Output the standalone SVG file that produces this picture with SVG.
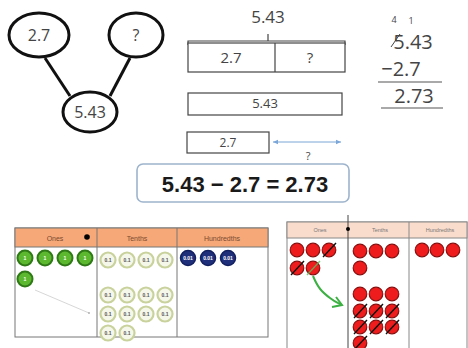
<svg xmlns="http://www.w3.org/2000/svg" width="468" height="348" viewBox="0 0 468 348">
<style>
.t{font-family:"Open Sans","Liberation Sans",sans-serif;fill:#444;text-anchor:middle}
.bond{fill:#fff;stroke:#111;stroke-width:3}
.edge{stroke:#111;stroke-width:3;fill:none}
.bx{fill:#fff;stroke:#444;stroke-width:1.2}
.one{fill:#5cb82e;stroke:#2f7a16;stroke-width:2}
.ten{fill:#f5f7ea;stroke:#c9d29c;stroke-width:2.2}
.hun{fill:#1f2f7a;stroke:#132060;stroke-width:1.5}
.dl{font-family:"Liberation Sans",sans-serif;text-anchor:middle;font-size:5px;font-weight:bold}
.red{fill:#ee1c1c;stroke:#8a1010;stroke-width:1.2}
.sl{stroke:#111;stroke-width:1.4}
.hd{font-family:"Liberation Sans",sans-serif;font-size:7px;fill:#7a4a30;text-anchor:middle}
.hdl{font-family:"Liberation Sans",sans-serif;font-size:5.5px;fill:#777;text-anchor:middle}
</style>
<defs>
<marker id="ah" markerWidth="6" markerHeight="6" refX="5" refY="3" orient="auto-start-reverse">
<path d="M0,0.8 L5,3 L0,5.2 z" fill="#7aa6d8"/>
</marker>
</defs>

<!-- number bond -->
<g id="connectors">
<line class="edge" x1="45" y1="58" x2="70" y2="96"/>
<line class="edge" x1="130" y1="58" x2="110" y2="96"/>
</g>
<g id="node-27"><ellipse class="bond" cx="39" cy="35" rx="30" ry="22"/><text class="t" x="39" y="41" font-size="16">2.7</text></g>
<g id="node-q"><ellipse class="bond" cx="136" cy="35" rx="27" ry="22"/><text class="t" x="136" y="41" font-size="16">?</text></g>
<g id="node-543"><ellipse class="bond" cx="90" cy="112" rx="27" ry="20"/><text class="t" x="90" y="118" font-size="16">5.43</text></g>

<!-- bar model -->
<g id="bar-model">
<text class="t" x="268" y="23" font-size="17">5.43</text>
<path d="M188,45 V41 H345 V45 M268,41 V34" fill="none" stroke="#444" stroke-width="1.2"/>
<rect class="bx" x="188" y="43" width="157" height="29"/>
<line x1="275" y1="43" x2="275" y2="72" stroke="#444" stroke-width="1.2"/>
<text class="t" x="231" y="63" font-size="15">2.7</text>
<text class="t" x="310" y="63" font-size="15">?</text>
<rect class="bx" x="188" y="93" width="154" height="22"/>
<text class="t" x="265" y="108" font-size="13">5.43</text>
<rect class="bx" x="187" y="132" width="82" height="21"/>
<text class="t" x="228" y="147" font-size="12">2.7</text>
<line x1="273" y1="142" x2="341" y2="142" stroke="#7aa6d8" stroke-width="1" marker-start="url(#ah)" marker-end="url(#ah)"/>
<text class="t" x="308" y="160" font-size="11" fill="#777">?</text>
</g>

<!-- equation -->
<g id="equation">
<rect x="137" y="164" width="212" height="38" rx="6" fill="#fff" stroke="#9db4cc" stroke-width="1.6"/>
<text x="245" y="192" font-family="Liberation Sans,Arial,sans-serif" font-weight="bold" font-size="22" fill="#1a1a1a" text-anchor="middle">5.43 − 2.7 = 2.73</text>
</g>

<!-- vertical subtraction -->
<g id="column-subtraction">
<text class="t" x="394" y="23" font-size="9">4</text>
<text class="t" x="411" y="24" font-size="9">1</text>
<text class="t" x="413" y="49" font-size="20">5.43</text>
<line x1="391" y1="47" x2="400" y2="34" stroke="#444" stroke-width="1"/>
<text class="t" x="401" y="76" font-size="20">−2.7</text>
<line x1="378" y1="82" x2="442" y2="82" stroke="#555" stroke-width="1.2"/>
<text class="t" x="414" y="103" font-size="20">2.73</text>
<line x1="381" y1="108" x2="443" y2="108" stroke="#555" stroke-width="1.2"/>
</g>

<!-- left place value chart -->
<g id="chart-left">
<rect x="15" y="228" width="253" height="109" fill="#fff" stroke="#777" stroke-width="1"/>
<rect x="15" y="228" width="253" height="19" fill="#f6a878" stroke="#777" stroke-width="1"/>
<line x1="97" y1="228" x2="97" y2="337" stroke="#777"/>
<line x1="177" y1="228" x2="177" y2="337" stroke="#777"/>
<text class="hd" x="55" y="241">Ones</text>
<text class="hd" x="137" y="241">Tenths</text>
<text class="hd" x="222" y="241">Hundredths</text>
<circle cx="87" cy="237" r="2.8" fill="#000"/>
<line x1="35" y1="290" x2="89" y2="313" stroke="#ccc" stroke-width="0.8"/>
<circle cx="89" cy="313" r="0.9" fill="#aaa"/>
<g id="ones-discs">
<circle class="one" cx="25" cy="258" r="7.5"/><circle class="one" cx="45" cy="258" r="7.5"/><circle class="one" cx="65" cy="258" r="7.5"/><circle class="one" cx="85" cy="258" r="7.5"/><circle class="one" cx="25" cy="279" r="7.5"/>
<text class="dl" fill="#fff" x="25" y="260">1</text><text class="dl" fill="#fff" x="45" y="260">1</text><text class="dl" fill="#fff" x="65" y="260">1</text><text class="dl" fill="#fff" x="85" y="260">1</text><text class="dl" fill="#fff" x="25" y="281">1</text>
</g>
<g id="tenths-discs" fill="#555">
<circle class="ten" cx="108" cy="260" r="7.5"/><circle class="ten" cx="127" cy="260" r="7.5"/><circle class="ten" cx="146" cy="260" r="7.5"/><circle class="ten" cx="165" cy="260" r="7.5"/>
<circle class="ten" cx="108" cy="295" r="7.5"/><circle class="ten" cx="127" cy="295" r="7.5"/><circle class="ten" cx="146" cy="295" r="7.5"/><circle class="ten" cx="165" cy="295" r="7.5"/>
<circle class="ten" cx="108" cy="314" r="7.5"/><circle class="ten" cx="127" cy="314" r="7.5"/><circle class="ten" cx="146" cy="314" r="7.5"/><circle class="ten" cx="165" cy="314" r="7.5"/>
<circle class="ten" cx="108" cy="333" r="7.5"/><circle class="ten" cx="127" cy="333" r="7.5"/>
<text class="dl" x="108" y="262">0.1</text><text class="dl" x="127" y="262">0.1</text><text class="dl" x="146" y="262">0.1</text><text class="dl" x="165" y="262">0.1</text>
<text class="dl" x="108" y="297">0.1</text><text class="dl" x="127" y="297">0.1</text><text class="dl" x="146" y="297">0.1</text><text class="dl" x="165" y="297">0.1</text>
<text class="dl" x="108" y="316">0.1</text><text class="dl" x="127" y="316">0.1</text><text class="dl" x="146" y="316">0.1</text><text class="dl" x="165" y="316">0.1</text>
<text class="dl" x="108" y="335">0.1</text><text class="dl" x="127" y="335">0.1</text>
</g>
<g id="hundredths-discs" fill="#fff">
<circle class="hun" cx="188" cy="258" r="7.5"/><circle class="hun" cx="208" cy="258" r="7.5"/><circle class="hun" cx="228" cy="258" r="7.5"/>
<text class="dl" x="188" y="260" font-size="4">0.01</text><text class="dl" x="208" y="260" font-size="4">0.01</text><text class="dl" x="228" y="260" font-size="4">0.01</text>
</g>
</g>

<!-- right place value chart -->
<g id="chart-right">
<rect x="287" y="222" width="180" height="130" fill="#fff" stroke="#888" stroke-width="1"/>
<rect x="287" y="222" width="180" height="16" fill="#fadccc" stroke="#888" stroke-width="1"/>
<line x1="348" y1="215" x2="348" y2="348" stroke="#444" stroke-width="1"/>
<line x1="409" y1="222" x2="409" y2="348" stroke="#888" stroke-width="1"/>
<circle cx="348" cy="229" r="2" fill="#000"/>
<text class="hdl" x="320" y="232">Ones</text>
<text class="hdl" x="380" y="232">Tenths</text>
<text class="hdl" x="440" y="232">Hundredths</text>
<g id="red-ones">
<circle class="red" cx="297" cy="250" r="6.8"/><circle class="red" cx="313" cy="250" r="6.8"/><circle class="red" cx="329" cy="250" r="6.8"/>
<circle class="red" cx="297" cy="268" r="6.8"/><circle class="red" cx="313" cy="268" r="6.8"/>
<line class="sl" x1="323" y1="257" x2="336" y2="243"/>
<line class="sl" x1="291" y1="275" x2="304" y2="261"/>
<line x1="307" y1="275" x2="320" y2="261" stroke="#5cbf5c" stroke-width="1.4" opacity="0.8"/>
<path d="M313,276 C318,288 322,292 330,298 C335,302 338,303 342,305" fill="none" stroke="#3cb043" stroke-width="2"/>
<path d="M336,297 L342,305 L332,307" fill="none" stroke="#3cb043" stroke-width="2"/>
</g>
<g id="red-tenths">
<circle class="red" cx="360" cy="251" r="6.8"/><circle class="red" cx="376" cy="251" r="6.8"/><circle class="red" cx="392" cy="251" r="6.8"/>
<circle class="red" cx="360" cy="268" r="6.8"/>
<circle class="red" cx="360" cy="294" r="6.8"/><circle class="red" cx="376" cy="294" r="6.8"/><circle class="red" cx="392" cy="294" r="6.8"/>
<circle class="red" cx="360" cy="311" r="6.8"/><circle class="red" cx="376" cy="311" r="6.8"/><circle class="red" cx="392" cy="311" r="6.8"/>
<circle class="red" cx="360" cy="327" r="6.8"/><circle class="red" cx="376" cy="327" r="6.8"/><circle class="red" cx="392" cy="327" r="6.8"/>
<circle class="red" cx="360" cy="343" r="6.8"/>
<line class="sl" x1="354" y1="318" x2="367" y2="304"/><line class="sl" x1="370" y1="318" x2="383" y2="304"/><line class="sl" x1="386" y1="318" x2="399" y2="304"/>
<line class="sl" x1="354" y1="334" x2="367" y2="320"/><line class="sl" x1="370" y1="334" x2="383" y2="320"/><line class="sl" x1="386" y1="334" x2="399" y2="320"/>
<line class="sl" x1="354" y1="350" x2="367" y2="336"/>
</g>
<g id="red-hundredths">
<circle class="red" cx="422" cy="250" r="6.8"/><circle class="red" cx="437" cy="250" r="6.8"/><circle class="red" cx="453" cy="250" r="6.8"/>
</g>
</g>
</svg>
